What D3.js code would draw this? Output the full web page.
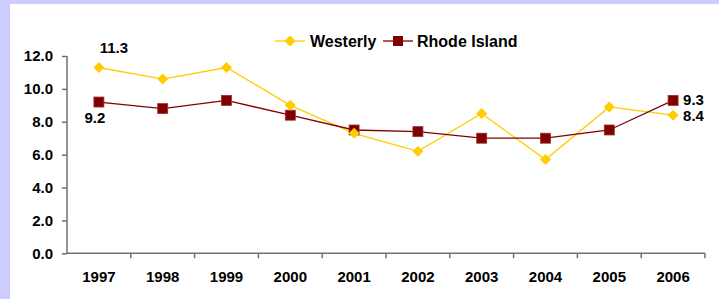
<!DOCTYPE html>
<html>
<head>
<meta charset="utf-8">
<script src="https://cdn.jsdelivr.net/npm/d3@7"></script>
<style>
  body { margin: 0; background: #ccccff; }
  text { font-family: Arial, "Liberation Sans", sans-serif; font-weight: bold; fill: #000; }
</style>
</head>
<body>
<svg id="chart"></svg>
<script>
/* De data van de grafiek */
var years = ["1997", "1998", "1999", "2000", "2001", "2002", "2003", "2004", "2005", "2006"];
var westerly = [11.3, 10.6, 11.3, 9.0, 7.3, 6.2, 8.5, 5.7, 8.9, 8.4];
var rhodeIsland = [9.2, 8.8, 9.3, 8.4, 7.5, 7.4, 7.0, 7.0, 7.5, 9.3];
var yTicks = [0, 2, 4, 6, 8, 10, 12];

var width = 719, height = 299;

var svg = d3.select("#chart")
	.attr("width", width)
	.attr("height", height);

/* Lavendel rand met witte achtergrond */
svg.append("rect").attr("width", width).attr("height", height).attr("fill", "#ccccff");
svg.append("rect").attr("x", 10).attr("y", 4).attr("width", width - 10).attr("height", height - 4).attr("fill", "#fff");

var x = d3.scaleBand()
	.domain(years)
	.range([67, 705]);

var y = d3.scaleLinear()
	.domain([0, 12])
	.range([253.3, 56]);

/* Y-as */
var yAxis = svg.append("g")
	.attr("transform", "translate(67,0)")
	.call(d3.axisLeft(y).tickValues(yTicks).tickSize(5).tickPadding(9).tickFormat(d3.format(".1f")));

/* X-as met streepjes tussen de jaren */
var xAxis = svg.append("g")
	.attr("transform", "translate(0," + y(0) + ")")
	.call(d3.axisBottom(x).tickSize(0).tickPadding(18));

xAxis.selectAll(".tick")
	.append("line")
	.attr("x1", x.bandwidth() / 2)
	.attr("x2", x.bandwidth() / 2)
	.attr("y2", 5);

svg.selectAll(".domain, .tick line")
	.attr("stroke", "#707070")
	.attr("stroke-width", 1.5);

svg.selectAll(".tick text")
	.style("font-size", "15px");

xAxis.select(".domain").attr("d", "M67,0H705");

yAxis.select(".domain").attr("d", "M0," + y(12) + "V" + y(0));

var cx = function(d, i) { return x(years[i]) + x.bandwidth() / 2; };

var line = d3.line()
	.x(cx)
	.y(function(d) { return y(d); });

/* Lijnen */
svg.append("path")
	.datum(westerly)
	.attr("d", line)
	.attr("fill", "none")
	.attr("stroke", "#ffcc00")
	.attr("stroke-width", 1.3);

svg.append("path")
	.datum(rhodeIsland)
	.attr("d", line)
	.attr("fill", "none")
	.attr("stroke", "#800000")
	.attr("stroke-width", 1.3);

/* Markers */
var diamond = d3.symbol().type(d3.symbolSquare).size(60);

svg.selectAll(".ri")
	.data(rhodeIsland)
	.enter()
	.append("rect")
	.attr("x", function(d, i) { return cx(d, i) - 5; })
	.attr("y", function(d) { return y(d) - 5; })
	.attr("width", 10)
	.attr("height", 10)
	.attr("fill", "#800000")
	.attr("stroke", "#993333")
	.attr("stroke-width", 0.8);

svg.selectAll(".we")
	.data(westerly)
	.enter()
	.append("path")
	.attr("d", diamond)
	.attr("transform", function(d, i) { return "translate(" + cx(d, i) + "," + y(d) + ") rotate(45)"; })
	.attr("fill", "#ffcc00");

/* Labels bij eerste en laatste punt */
var last = years.length - 1;

svg.append("text")
	.attr("x", cx(0, 0) + 15)
	.attr("y", y(westerly[0]) - 15)
	.attr("text-anchor", "middle")
	.style("font-size", "15px")
	.text(westerly[0].toFixed(1));

svg.append("text")
	.attr("x", cx(0, 0) - 4)
	.attr("y", y(rhodeIsland[0]) + 21)
	.attr("text-anchor", "middle")
	.style("font-size", "15px")
	.text(rhodeIsland[0].toFixed(1));

svg.append("text")
	.attr("x", cx(0, last) + 10)
	.attr("y", y(rhodeIsland[last]) + 5)
	.style("font-size", "15px")
	.text(rhodeIsland[last].toFixed(1));

svg.append("text")
	.attr("x", cx(0, last) + 10)
	.attr("y", y(westerly[last]) + 6)
	.style("font-size", "15px")
	.text(westerly[last].toFixed(1));

/* Legenda */
var legend = svg.append("g").attr("transform", "translate(0,41)");

legend.append("line").attr("x1", 275).attr("x2", 305).attr("stroke", "#ffcc00").attr("stroke-width", 1.3);
legend.append("path").attr("d", diamond).attr("transform", "translate(290,0) rotate(45)").attr("fill", "#ffcc00");
legend.append("text").attr("x", 310).attr("y", 5.5).style("font-size", "16px").text("Westerly");

legend.append("line").attr("x1", 383).attr("x2", 413).attr("stroke", "#800000").attr("stroke-width", 1.3);
legend.append("rect").attr("x", 393).attr("y", -5).attr("width", 10).attr("height", 10).attr("fill", "#800000");
legend.append("text").attr("x", 417).attr("y", 5.5).style("font-size", "16px").text("Rhode Island");
</script>
</body>
</html>
